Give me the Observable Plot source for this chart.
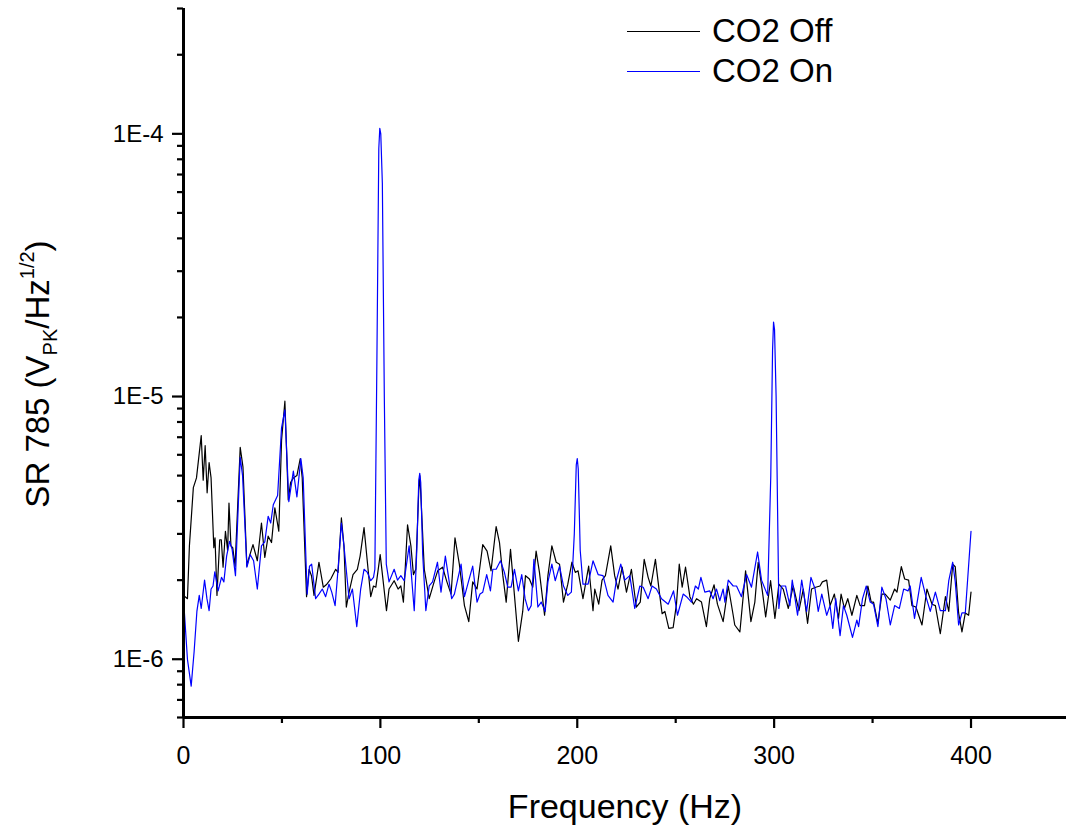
<!DOCTYPE html>
<html><head><meta charset="utf-8">
<script src="https://cdn.jsdelivr.net/npm/d3@7"></script>
<script src="https://cdn.jsdelivr.net/npm/@observablehq/plot@0.6"></script>
<style>
html,body{margin:0;padding:0;background:#fff;overflow:hidden}
#wrap{position:relative;width:1066px;height:829px;font-family:"Liberation Sans",Arial,sans-serif}
#legend{position:absolute;left:627px;top:11px;font-size:33px;color:#000}
.item{display:flex;align-items:center;height:40px;white-space:nowrap}
.sw{display:inline-block;width:73px;height:0;border-top:1.3px solid;margin-right:12px}
</style></head>
<body><div id="wrap"><div id="legend"></div></div>
<script>
// ---- data ----
const seriesNames = ["CO2 Off", "CO2 On"];
const seriesColors = ["#000000", "#0000ff"];

const offFreq = [
0, 2, 3, 5, 6.6, 9, 10, 11, 12, 13,
14, 15.4, 16, 17, 18.4, 19.2, 20.1, 21.3, 22.4, 23.1,
24.1, 25, 26.2, 28.8, 30.2, 32.2, 33, 35.3, 37.5, 39.6,
41.3, 43, 44.7, 46.4, 48.4, 49.8, 51.5, 53.2, 54.4, 55.8,
57.6, 59.3, 60.3, 62.5, 63.8, 65, 66.3, 68.8, 71, 72.8,
74.8, 77.3, 78.5, 80.2, 81.5, 82.7, 84.1, 86.1, 88.3, 89.7,
91.7, 93.4, 95.1, 96.5, 97.7, 99.9, 103.1, 104.4, 107, 109,
110.4, 111.7, 113.8, 115.5, 116.8, 118, 119.5, 120, 120.5, 122.3,
124.8, 127.3, 129.1, 131.6, 133.8, 135.9, 137.9, 140.1, 142.7, 144.9,
146.9, 149.1, 152, 154.2, 156.2, 158.8, 160.5, 162.2, 163.9, 166.1,
168.1, 170.1, 172.3, 173.7, 175.7, 177.4, 179.1, 180.8, 183.4, 185.1,
187.1, 189.3, 191, 193, 195.2, 197.3, 199, 200.4, 202.9, 205.8,
208, 208.9, 210.9, 212.6, 214.3, 217, 219, 220.7, 222.8, 225,
227.5, 230, 232, 234, 236, 237.4, 239.7, 241.9, 243.1, 244.5,
246.5, 248.7, 250.4, 251.8, 253.3, 255, 257.2, 259, 260.6, 263.1,
265.6, 267.3, 269.5, 271.2, 274.1, 276.7, 279.2, 280, 282.6, 285.5,
288.2, 290.2, 291.9, 294, 295.7, 298.2, 300.4, 302.4, 304.6, 307.2,
309.7, 312.6, 314.8, 317, 319, 321.1, 323.3, 324.5, 326.7, 328.4,
330.6, 332.7, 334, 335.7, 337.4, 339.5, 342, 343.7, 345.9, 347.6,
349.3, 350.5, 352.7, 354.7, 356.4, 359, 361.2, 362.4, 364.6, 366.3,
368.3, 370, 372, 375.1, 377.6, 380.2, 381.9, 384.4, 387, 388.7,
390.7, 392, 393.7, 395.4, 397.1, 398.8, 400
];
const offVal = [
1.75e-6, 1.7e-6, 2.7e-6, 4.5e-6, 4.9e-6, 7.1e-6, 4.8e-6, 6.5e-6, 4.3e-6, 5.6e-6,
4.9e-6, 2.66e-6, 2.9e-6, 1.75e-6, 2.85e-6, 2.85e-6, 2.24e-6, 3.07e-6, 2.6e-6, 3.93e-6,
2.7e-6, 2.66e-6, 2.26e-6, 6.4e-6, 5.4e-6, 2.26e-6, 2.4e-6, 2.73e-6, 2.37e-6, 3.3e-6,
2.44e-6, 2.94e-6, 2.78e-6, 3.77e-6, 3.07e-6, 6.8e-6, 9.6e-6, 4.04e-6, 4.7e-6, 4.9e-6,
5.0e-6, 5.8e-6, 4.9e-6, 1.73e-6, 2.2e-6, 2.08e-6, 1.75e-6, 2.34e-6, 1.88e-6, 1.93e-6,
2.02e-6, 2.2e-6, 2.14e-6, 3.45e-6, 2.7e-6, 1.58e-6, 1.8e-6, 2.1e-6, 2.2e-6, 2.47e-6,
3.17e-6, 2.34e-6, 1.73e-6, 1.9e-6, 1.88e-6, 2.5e-6, 1.53e-6, 1.85e-6, 1.99e-6, 1.85e-6,
1.9e-6, 1.65e-6, 3.25e-6, 2.7e-6, 2.1e-6, 2.2e-6, 4.4e-6, 5.0e-6, 4.3e-6, 2.2e-6,
1.7e-6, 1.97e-6, 2.17e-6, 2.24e-6, 1.97e-6, 1.77e-6, 2.9e-6, 2.3e-6, 1.6e-6, 1.39e-6,
1.97e-6, 1.85e-6, 2.73e-6, 2.58e-6, 2.17e-6, 3.2e-6, 2.78e-6, 2.08e-6, 1.65e-6, 2.62e-6,
1.75e-6, 1.17e-6, 1.52e-6, 2.08e-6, 2.02e-6, 1.88e-6, 2.58e-6, 2.14e-6, 1.47e-6, 2.08e-6,
2.7e-6, 2.34e-6, 2.3e-6, 1.65e-6, 1.93e-6, 2.34e-6, 2.14e-6, 2.17e-6, 1.7e-6, 2.26e-6,
1.53e-6, 1.85e-6, 1.62e-6, 2.0e-6, 2.08e-6, 2.7e-6, 2.08e-6, 1.85e-6, 2.24e-6, 1.8e-6,
2.2e-6, 1.58e-6, 1.65e-6, 2.4e-6, 2.05e-6, 1.9e-6, 2.4e-6, 1.75e-6, 1.49e-6, 1.52e-6,
1.31e-6, 1.32e-6, 1.62e-6, 2.3e-6, 1.88e-6, 2.24e-6, 1.73e-6, 1.62e-6, 1.7e-6, 1.65e-6,
1.33e-6, 1.7e-6, 1.92e-6, 1.62e-6, 1.39e-6, 1.9e-6, 1.47e-6, 1.35e-6, 1.27e-6, 2.17e-6,
1.39e-6, 1.65e-6, 2.34e-6, 1.82e-6, 1.45e-6, 1.99e-6, 1.43e-6, 1.93e-6, 1.85e-6, 1.56e-6,
1.9e-6, 1.53e-6, 1.85e-6, 1.37e-6, 1.85e-6, 1.88e-6, 1.9e-6, 1.97e-6, 2.0e-6, 1.6e-6,
1.77e-6, 1.43e-6, 1.77e-6, 1.56e-6, 1.7e-6, 1.47e-6, 1.75e-6, 1.6e-6, 1.6e-6, 1.9e-6,
1.65e-6, 1.65e-6, 1.37e-6, 1.77e-6, 1.77e-6, 1.68e-6, 1.85e-6, 1.8e-6, 2.25e-6, 2.02e-6,
2.0e-6, 1.6e-6, 1.58e-6, 1.35e-6, 1.85e-6, 1.62e-6, 1.6e-6, 1.25e-6, 1.73e-6, 1.52e-6,
2.3e-6, 2.25e-6, 1.5e-6, 1.27e-6, 1.5e-6, 1.47e-6, 1.8e-6
];

const onFreq = [
0, 2, 3.9, 5.4, 6.8, 8, 9, 10.7, 11.9, 13,
14, 15, 15.9, 17.6, 19.3, 20.5, 21.9, 23.4, 24.7, 26.4,
28.8, 30, 32.2, 33.9, 35.6, 37.5, 39.6, 41.3, 43, 44.3,
45.6, 47.8, 49.8, 51.5, 53.5, 55.8, 57.6, 59.6, 60.8, 62.8,
64, 65.1, 67.1, 68.8, 70.5, 72.2, 73.9, 75.3, 77, 78.5,
80.2, 81.5, 84.1, 85.8, 88, 90, 91.7, 93.4, 95.1, 96.5,
97.2, 98.2, 99.2, 99.7, 100.2, 101, 102, 103, 104.4, 107,
108.7, 110.4, 112.1, 114.6, 117.2, 118.5, 119.5, 120, 120.5, 121.5,
123.1, 124.8, 126.5, 129, 130.8, 133, 134.5, 136.2, 137.6, 139.3,
141, 142.7, 144.7, 146.9, 149.1, 150.6, 152, 154, 155.9, 157.1,
158.8, 161, 163, 164.7, 166.4, 168.1, 170.1, 171.8, 173.5, 175.2,
176.6, 178, 180, 181.7, 183.7, 185.1, 187.1, 188.8, 191, 193,
195.2, 197, 198.5, 199.5, 200, 200.5, 201.5, 202.9, 205.5, 208,
210.6, 213.1, 215.6, 218.2, 219.9, 222.1, 224.1, 226.7, 229.2, 231.8,
233.5, 236, 238, 240.2, 242.8, 246.2, 248.9, 250.9, 253.8, 255.5,
258, 260, 261.5, 262.8, 264.8, 267.3, 269, 270.7, 272.4, 274.1,
275, 276.7, 279.2, 280.9, 283.4, 286, 288.5, 291.6, 293.6, 296.7,
298.3, 299.2, 299.7, 300.2, 301, 302.4, 303.7, 305.8, 308, 309.2,
311.9, 314, 316.5, 318.7, 320.8, 322.4, 324.2, 326.7, 328.4, 329.8,
331.3, 333.5, 335.2, 336.9, 339.8, 342, 342.9, 344.9, 346.8, 348.8,
350.5, 352.7, 354.7, 356.8, 359, 361.2, 363.6, 365.8, 368, 369.1,
371.3, 374.7, 377.1, 379.3, 381.9, 384.4, 387, 388.7, 390.7, 392,
393.7, 395.4, 397.1, 400
];
const onVal = [
1.7e-6, 1.0e-6, 7.9e-7, 1.07e-6, 1.52e-6, 1.75e-6, 1.56e-6, 2.0e-6, 1.7e-6, 1.53e-6,
1.85e-6, 1.9e-6, 2.15e-6, 1.82e-6, 2.05e-6, 1.97e-6, 2.47e-6, 2.81e-6, 2.62e-6, 2.08e-6,
5.87e-6, 5.0e-6, 2.24e-6, 2.5e-6, 2.37e-6, 1.85e-6, 2.7e-6, 2.8e-6, 3.5e-6, 3.3e-6,
3.87e-6, 4.2e-6, 7.6e-6, 8.9e-6, 3.98e-6, 5.2e-6, 4.15e-6, 5.8e-6, 4.9e-6, 1.77e-6,
2.26e-6, 2.3e-6, 1.7e-6, 1.77e-6, 1.85e-6, 1.73e-6, 1.93e-6, 1.8e-6, 1.6e-6, 2.2e-6,
3.3e-6, 2.7e-6, 1.7e-6, 1.85e-6, 1.33e-6, 1.85e-6, 2.2e-6, 2.14e-6, 1.99e-6, 2.05e-6,
2.2e-6, 1.3e-5, 8.8e-5, 1.05e-4, 1.0e-4, 6.5e-5, 1.0e-5, 2.3e-6, 1.97e-6, 2.2e-6,
2.0e-6, 2.08e-6, 1.99e-6, 2.7e-6, 1.53e-6, 2.6e-6, 4.8e-6, 5.1e-6, 4.7e-6, 2.5e-6,
1.53e-6, 1.9e-6, 1.97e-6, 2.34e-6, 1.8e-6, 2.47e-6, 2.08e-6, 1.7e-6, 1.77e-6, 2.02e-6,
2.3e-6, 1.73e-6, 1.97e-6, 2.26e-6, 1.65e-6, 1.77e-6, 1.8e-6, 2.1e-6, 1.82e-6, 2.2e-6,
2.2e-6, 2.37e-6, 2.14e-6, 1.88e-6, 1.88e-6, 2.2e-6, 1.82e-6, 2.1e-6, 1.7e-6, 1.53e-6,
1.6e-6, 2.4e-6, 1.58e-6, 1.65e-6, 1.52e-6, 1.97e-6, 2.3e-6, 1.99e-6, 2.26e-6, 1.9e-6,
1.75e-6, 1.8e-6, 3.0e-6, 5.5e-6, 5.8e-6, 5.3e-6, 2.6e-6, 1.93e-6, 1.93e-6, 2.37e-6,
2.1e-6, 2.08e-6, 1.75e-6, 1.65e-6, 2.0e-6, 2.3e-6, 2.0e-6, 2.08e-6, 1.56e-6, 1.9e-6,
1.88e-6, 1.7e-6, 1.9e-6, 1.85e-6, 1.7e-6, 1.62e-6, 1.82e-6, 1.47e-6, 1.77e-6, 1.73e-6,
1.65e-6, 1.9e-6, 1.85e-6, 2.05e-6, 1.8e-6, 1.82e-6, 1.7e-6, 1.85e-6, 1.67e-6, 1.85e-6,
1.65e-6, 2.0e-6, 1.9e-6, 1.9e-6, 1.73e-6, 2.1e-6, 1.88e-6, 2.56e-6, 2.0e-6, 1.75e-6,
5.0e-6, 1.5e-5, 1.92e-5, 1.8e-5, 1.0e-5, 1.56e-6, 1.9e-6, 1.9e-6, 1.6e-6, 2.0e-6,
1.47e-6, 2.0e-6, 1.52e-6, 2.05e-6, 1.85e-6, 1.52e-6, 1.77e-6, 1.47e-6, 1.6e-6, 1.31e-6,
1.7e-6, 1.23e-6, 1.6e-6, 1.47e-6, 1.21e-6, 1.41e-6, 1.33e-6, 1.7e-6, 1.9e-6, 1.65e-6,
1.62e-6, 1.33e-6, 1.88e-6, 1.7e-6, 1.35e-6, 1.6e-6, 1.56e-6, 1.85e-6, 1.82e-6, 1.9e-6,
1.43e-6, 2.05e-6, 1.73e-6, 1.52e-6, 1.8e-6, 1.53e-6, 1.53e-6, 1.99e-6, 2.34e-6, 1.97e-6,
1.35e-6, 1.5e-6, 1.5e-6, 3.07e-6
];

const xMajorTicks = [0, 100, 200, 300, 400];
const xMinorTicks = [50, 150, 250, 350];
const yMajorTicks = [1e-6, 1e-5, 1e-4];
const yMajorLabels = ["1E-6", "1E-5", "1E-4"];
const yMinorTicks = [6e-7, 7e-7, 8e-7, 9e-7,
  2e-6, 3e-6, 4e-6, 5e-6, 6e-6, 7e-6, 8e-6, 9e-6,
  2e-5, 3e-5, 4e-5, 5e-5, 6e-5, 7e-5, 8e-5, 9e-5,
  2e-4, 3e-4];
const xDomain = [0, 448.5];
const yDomain = [6e-7, 3e-4];
const xTitle = "Frequency (Hz)";

// ---- build table ----
const rows = [];
offFreq.forEach((f, i) => rows.push({f, v: offVal[i], s: seriesNames[0]}));
onFreq.forEach((f, i) => rows.push({f, v: onVal[i], s: seriesNames[1]}));

const font = "Liberation Sans, Arial, sans-serif";

const chart = Plot.plot({
  width: 1066, height: 829,
  marginLeft: 183, marginRight: 0, marginTop: 8, marginBottom: 112,
  style: {fontFamily: font, background: "white", color: "#000", overflow: "visible"},
  x: {domain: xDomain, axis: null, label: null},
  y: {type: "log", domain: yDomain, axis: null, label: null},
  color: {domain: seriesNames, range: seriesColors},
  marks: [
    Plot.lineY(rows, {x: "f", y: "v", z: "s", stroke: "s", strokeWidth: 1.2}),
    Plot.ruleX([xDomain[0]], {stroke: "#000", strokeWidth: 3}),
    Plot.ruleY([yDomain[0]], {stroke: "#000", strokeWidth: 3}),
    Plot.axisX(xMajorTicks, {anchor: "bottom", tickSize: 11, strokeWidth: 2.2, tickPadding: 18, fontSize: 25, label: null, tickFormat: d => String(d)}),
    Plot.axisX(xMinorTicks, {anchor: "bottom", tickSize: 6, strokeWidth: 2.2, fontSize: 24, label: null, tickFormat: () => ""}),
    Plot.axisY(yMajorTicks, {anchor: "left", tickSize: 11, strokeWidth: 2.2, tickPadding: 9, fontSize: 24, label: null, tickFormat: d => yMajorLabels[yMajorTicks.indexOf(d)]}),
    Plot.axisY(yMinorTicks, {anchor: "left", tickSize: 6, strokeWidth: 2.2, fontSize: 24, label: null, tickFormat: () => ""})
  ]
});

document.getElementById("wrap").prepend(chart);

// axis titles
const svg = d3.select(chart);
svg.append("text")
  .attr("x", 625).attr("y", 818)
  .attr("text-anchor", "middle")
  .attr("font-family", font).attr("font-size", 34).attr("fill", "#000")
  .text(xTitle);

const yt = svg.append("text")
  .attr("transform", "translate(49,374) rotate(-90)")
  .attr("text-anchor", "middle")
  .attr("font-family", font).attr("font-size", 33).attr("fill", "#000");
yt.append("tspan").text("SR 785 (V");
yt.append("tspan").attr("font-size", 20).attr("dy", 8).text("PK");
yt.append("tspan").attr("dy", -8).text("/Hz");
yt.append("tspan").attr("font-size", 20).attr("dy", -15).text("1/2");
yt.append("tspan").attr("dy", 15).text(")");

// legend
const legend = document.getElementById("legend");
seriesNames.forEach((name, i) => {
  const item = document.createElement("div");
  item.className = "item";
  const sw = document.createElement("span");
  sw.className = "sw";
  sw.style.borderTopColor = seriesColors[i];
  item.appendChild(sw);
  item.appendChild(document.createTextNode(name));
  legend.appendChild(item);
});
</script>
</body></html>
